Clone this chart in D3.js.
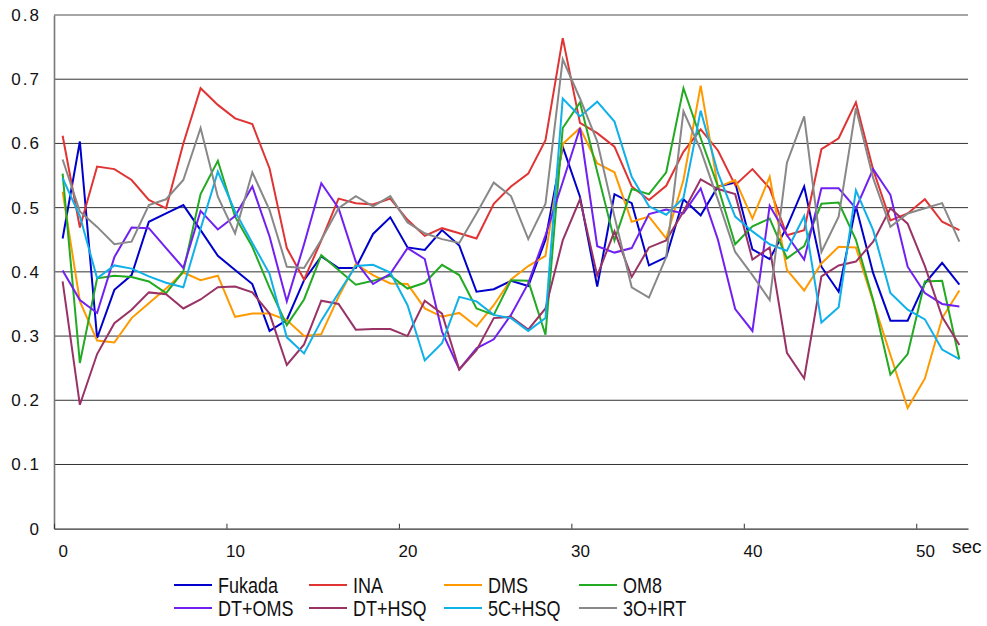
<!DOCTYPE html>
<html lang="en">
<head>
<meta charset="UTF-8">
<script src="https://d3js.org/d3.v7.min.js"></script>
<style>
    body { margin: 0; background: #fff; }
    svg { display: block; font-family: "Liberation Sans", Arial, sans-serif; }
</style>
</head>
<body>
<div id="chart"></div>
<script>
    // one sample per second, plotted at the middle of each second
    const seriesNames = ["Fukada", "INA", "DMS", "OM8", "DT+OMS", "DT+HSQ", "5C+HSQ", "3O+IRT"];
    const seriesColors = ["#0000cc", "#e03333", "#ff9900", "#22aa22", "#7020f0", "#993366", "#10b0e8", "#888888"];

    const fukada = [0.452,0.603,0.297,0.372,0.395,0.478,0.491,0.504,0.465,0.425,0.403,0.381,0.308,0.325,0.387,0.424,0.406,0.406,0.459,0.485,0.438,0.434,0.465,0.441,0.369,0.373,0.386,0.378,0.45,0.595,0.517,0.377,0.521,0.507,0.41,0.423,0.513,0.488,0.533,0.539,0.435,0.42,0.47,0.533,0.408,0.369,0.502,0.398,0.324,0.324,0.382,0.414,0.38];
    const ina = [0.612,0.469,0.564,0.56,0.543,0.512,0.499,0.6,0.686,0.66,0.639,0.63,0.561,0.437,0.388,0.449,0.514,0.507,0.505,0.514,0.481,0.456,0.468,0.46,0.452,0.506,0.533,0.553,0.605,0.764,0.632,0.616,0.595,0.533,0.512,0.534,0.587,0.622,0.589,0.535,0.56,0.53,0.457,0.465,0.591,0.608,0.664,0.559,0.48,0.491,0.513,0.478,0.465];
    const dms = [0.525,0.354,0.293,0.29,0.328,0.351,0.374,0.399,0.387,0.394,0.33,0.335,0.335,0.325,0.3,0.303,0.361,0.412,0.395,0.382,0.381,0.343,0.33,0.336,0.315,0.348,0.388,0.409,0.425,0.599,0.624,0.569,0.555,0.478,0.486,0.452,0.543,0.69,0.532,0.543,0.483,0.548,0.403,0.371,0.413,0.439,0.438,0.354,0.271,0.188,0.234,0.328,0.371];
    const om8 = [0.553,0.258,0.39,0.394,0.392,0.385,0.367,0.401,0.521,0.573,0.486,0.439,0.375,0.317,0.357,0.426,0.403,0.38,0.386,0.394,0.374,0.383,0.411,0.395,0.343,0.333,0.387,0.386,0.302,0.624,0.664,0.556,0.449,0.529,0.521,0.555,0.686,0.608,0.533,0.443,0.471,0.483,0.421,0.44,0.506,0.508,0.45,0.356,0.24,0.272,0.385,0.386,0.264];
    const dtOms = [0.402,0.356,0.336,0.423,0.469,0.468,0.437,0.406,0.495,0.466,0.487,0.533,0.455,0.354,0.443,0.538,0.499,0.416,0.381,0.397,0.437,0.42,0.307,0.248,0.281,0.295,0.333,0.382,0.457,0.54,0.624,0.44,0.43,0.437,0.49,0.497,0.491,0.53,0.45,0.342,0.308,0.503,0.457,0.419,0.53,0.53,0.499,0.56,0.52,0.408,0.367,0.35,0.346];
    const dtHsq = [0.385,0.193,0.272,0.32,0.341,0.368,0.365,0.343,0.357,0.376,0.377,0.368,0.335,0.255,0.287,0.355,0.35,0.31,0.311,0.311,0.3,0.355,0.335,0.248,0.278,0.328,0.33,0.31,0.343,0.449,0.513,0.394,0.463,0.392,0.438,0.449,0.494,0.544,0.529,0.521,0.419,0.438,0.274,0.234,0.393,0.41,0.416,0.447,0.499,0.475,0.409,0.33,0.286];
    const c5Hsq = [0.546,0.487,0.39,0.41,0.405,0.393,0.383,0.376,0.467,0.556,0.494,0.445,0.397,0.298,0.273,0.324,0.367,0.409,0.411,0.399,0.348,0.262,0.289,0.361,0.354,0.333,0.328,0.308,0.328,0.67,0.642,0.665,0.634,0.548,0.502,0.489,0.515,0.651,0.554,0.486,0.463,0.443,0.433,0.487,0.321,0.345,0.527,0.465,0.367,0.341,0.326,0.279,0.264];
    const o3Irt = [0.575,0.494,0.47,0.443,0.447,0.504,0.513,0.543,0.624,0.517,0.46,0.555,0.496,0.408,0.406,0.45,0.499,0.518,0.502,0.518,0.477,0.46,0.451,0.445,0.491,0.539,0.518,0.451,0.506,0.731,0.67,0.603,0.486,0.376,0.36,0.423,0.65,0.59,0.512,0.431,0.395,0.356,0.57,0.642,0.431,0.486,0.655,0.546,0.47,0.491,0.499,0.507,0.447];

    const allSeries = [fukada, ina, dms, om8, dtOms, dtHsq, c5Hsq, o3Irt];
    const xTicks = [0, 10, 20, 30, 40, 50];
    const yTicks = [0, 0.1, 0.2, 0.3, 0.4, 0.5, 0.6, 0.7, 0.8];

    const w = 987, h = 626;

    const svg = d3.select("#chart")
        .append("svg")
        .attr("width", w)
        .attr("height", h);

    const xScale = d3.scaleLinear()
        .domain([0, 53])
        .range([54, 968]);

    const yScale = d3.scaleLinear()
        .domain([0, 0.8])
        .range([528.7, 15]);

    // horizontal grid
    svg.append("g")
        .selectAll("line")
        .data(yTicks.slice(1))
        .enter()
        .append("line")
        .attr("x1", xScale(0))
        .attr("x2", xScale(53))
        .attr("y1", d => yScale(d))
        .attr("y2", d => yScale(d))
        .attr("stroke", (d, i) => i === yTicks.length - 2 ? "#888" : "#333")
        .attr("stroke-width", (d, i) => i === yTicks.length - 2 ? 1.6 : 1);

    // y axis
    const yAxis = d3.axisLeft(yScale)
        .tickValues(yTicks)
        .tickSize(0)
        .tickPadding(13)
        .tickFormat(d => d === 0 ? "0" : d3.format(".1f")(d));

    const gy = svg.append("g")
        .attr("transform", `translate(${xScale(0)},0)`)
        .call(yAxis);
    gy.select(".domain").attr("stroke", "#777").attr("stroke-width", 1.6);
    gy.selectAll("text")
        .attr("font-size", "17px")
        .attr("fill", "#111")
        .attr("letter-spacing", "2px");

    // x axis, labels sit in the middle of the second after the tick
    const xAxis = d3.axisBottom(xScale)
        .tickValues(xTicks)
        .tickSizeInner(-5)
        .tickSizeOuter(0)
        .tickPadding(16);

    const gx = svg.append("g")
        .attr("transform", `translate(0,${yScale(0)})`)
        .call(xAxis);
    gx.select(".domain").attr("stroke", "#333").attr("stroke-width", 1.3);
    gx.selectAll(".tick line").attr("stroke", "#333");
    gx.selectAll("text")
        .attr("x", xScale(0.5) - xScale(0))
        .attr("font-size", "17px")
        .attr("fill", "#111");

    svg.append("text")
        .attr("x", 952)
        .attr("y", 553)
        .attr("font-size", "19px")
        .attr("fill", "#111")
        .text("sec");

    const line = d3.line()
        .x((d, i) => xScale(i + 0.5))
        .y(d => yScale(d));

    svg.append("g")
        .selectAll("path")
        .data(allSeries)
        .enter()
        .append("path")
        .attr("fill", "none")
        .attr("stroke", (d, i) => seriesColors[i])
        .attr("stroke-width", 2)
        .attr("stroke-linejoin", "miter")
        .attr("d", line);

    // legend, 4 columns x 2 rows
    const legend = svg.append("g");
    const items = legend.selectAll("g")
        .data(seriesNames)
        .enter()
        .append("g")
        .attr("transform", (d, i) => `translate(${174 + (i % 4) * 135},${585 + Math.floor(i / 4) * 23})`);

    items.append("line")
        .attr("x1", 0)
        .attr("x2", 38)
        .attr("stroke", (d, i) => seriesColors[i])
        .attr("stroke-width", 2);

    items.append("text")
        .attr("transform", "translate(44,0) scale(0.8,1)")
        .attr("dy", "0.36em")
        .attr("font-size", "22.5px")
        .attr("fill", "#111")
        .text(d => d);
</script>
</body>
</html>
